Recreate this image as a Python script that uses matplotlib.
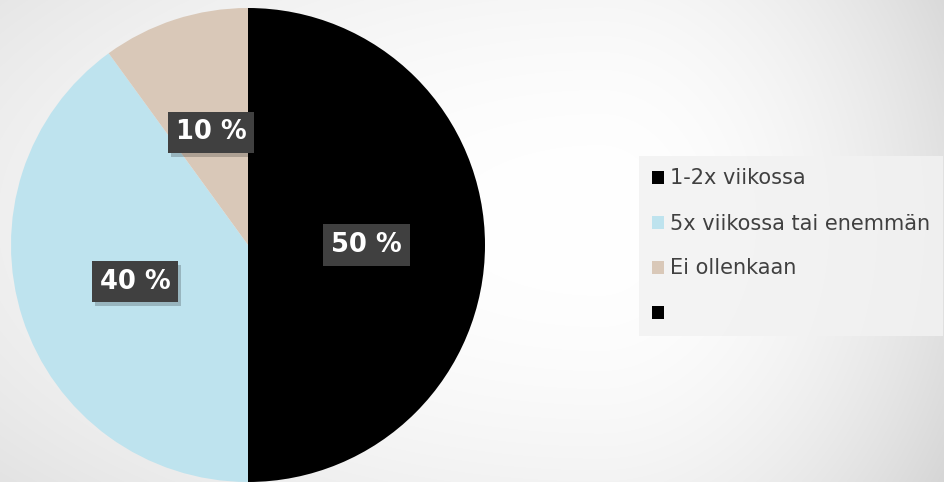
import numpy as np
import matplotlib
matplotlib.use("Agg")
import matplotlib.pyplot as plt
from matplotlib.patches import Rectangle
import matplotlib.patheffects as pe

# data
categories = ["1-2x viikossa", "5x viikossa tai enemmän", "Ei ollenkaan", ""]
values = [50, 40, 10, 0]
colors = ["#000000", "#bee3ee", "#d9c8b8", "#000000"]

W, H = 944, 482
fig = plt.figure(figsize=(W / 100, H / 100), dpi=100)

# background: soft radial gradient, white around the middle right
bg = fig.add_axes([0, 0, 1, 1])
xx, yy = np.meshgrid(np.arange(W), np.arange(H))
cx, cy = 600, 220
sx = np.where(xx < cx, 900.0, 380.0)
d2 = ((xx - cx) / sx) ** 2 + ((yy - cy) / 450.0) ** 2
g = 1.0 - 0.14 * np.clip(d2, 0, 1.3)
bg.imshow(np.dstack([g, g, g]), extent=[0, W, H, 0], aspect="auto")
bg.axis("off")

# pie: center (248, 245), radius 237 px
ax = fig.add_axes([(248 - 237) / W, (H - 245 - 237) / H, 474 / W, 474 / H])
wedges, texts = ax.pie(values[:3], colors=colors[:3], startangle=90,
                       counterclock=False, radius=1.0)
ax.set_xlim(-1, 1)
ax.set_ylim(-1, 1)
ax.set_aspect("equal")
ax.axis("off")

# percentage labels at half radius
total = sum(values)
for w, v in zip(wedges, values[:3]):
    ang = np.deg2rad((w.theta1 + w.theta2) / 2)
    x, y = 0.5 * np.cos(ang), 0.5 * np.sin(ang)
    t = ax.text(x, y, "%d %%" % round(100 * v / total), ha="center", va="center",
                color="white", fontsize=18.5, fontweight="bold",
                bbox=dict(boxstyle="square,pad=0.3", fc="#404040", ec="none"))
    t.get_bbox_patch().set_path_effects([
        pe.SimplePatchShadow(offset=(2, -3), shadow_rgbFace="#000000", alpha=0.2),
        pe.Normal()])

# legend
handles = [Rectangle((0, 0), 1, 1, fc=c, ec="none") for c in colors]
leg = fig.legend(handles, categories, loc="upper left",
                 bbox_to_anchor=(639 / W, 1 - 156 / H),
                 frameon=True, fontsize=15, labelcolor="#404040",
                 handlelength=0.6, handleheight=0.6, handletextpad=0.3,
                 labelspacing=1.2, borderpad=0.6, borderaxespad=0,
                 fancybox=False)
leg.get_frame().set_facecolor("#f2f2f2")
leg.get_frame().set_edgecolor("none")
leg.get_frame().set_alpha(0.85)

plt.savefig("out.png", dpi=100)
